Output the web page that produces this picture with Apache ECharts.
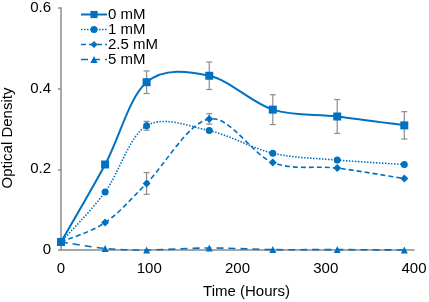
<!DOCTYPE html>
<html>
<head>
<meta charset="utf-8">
<script src="https://cdn.jsdelivr.net/npm/echarts@6/dist/echarts.min.js"></script>
<style>
    html, body { margin: 0; padding: 0; background: #fff; }
    #chart { width: 429px; height: 302px; }
</style>
</head>
<body>
<div id="chart"></div>
<script>
// 数据
var hours = [0, 50, 97, 168, 240, 313, 389];
var seriesNames = ['0 mM', '1 mM', '2.5 mM', '5 mM'];
var od0 = [0.020, 0.212, 0.416, 0.432, 0.348, 0.331, 0.309];
var od1 = [0.020, 0.144, 0.308, 0.296, 0.240, 0.223, 0.212];
var od25 = [0.020, 0.068, 0.165, 0.325, 0.217, 0.203, 0.177];
var od5 = [0.020, 0.004, 0.000, 0.005, 0.001, 0.001, 0.000];
var err0 = [0, 0, 0.028, 0.034, 0.037, 0.042, 0.034];
var err1 = [0, 0, 0.011, 0, 0, 0, 0];
var err25 = [0, 0, 0.027, 0.013, 0, 0, 0];
var yTicks = [0, 0.2, 0.4, 0.6];

(function () {
    var chart = echarts.init(document.getElementById('chart')),
        blue = '#0070C0',
        grey = '#8c8c8c',
        font = 'Liberation Sans, Arial, sans-serif',
        fs = 15,
        values = [od0, od1, od25, od5],
        errors = [err0, err1, err25],
        symbols = ['rect', 'circle', 'diamond', 'triangle'],
        sizes = [8, 7, 8, 7],
        widths = [2, 1.6, 1.6, 1.6],
        dashes = ['solid', [1.5, 1.5], [5, 3], [7, 5]],
        series = [],
        legendData = [],
        errData = [],
        i, j;

    // 误差线
    for (i = 0; i < errors.length; i++) {
        for (j = 0; j < hours.length; j++) {
            if (errors[i][j] > 0) {
                errData.push([hours[j], values[i][j] - errors[i][j], values[i][j] + errors[i][j]]);
            }
        }
    }

    // Excel 式平滑曲线 (Catmull-Rom), 在像素坐标里算控制点
    function smoothRender(idx) {
        return function (params, api) {
            if (params.dataIndex !== 0) {
                return null;
            }
            var p = [], k, d, a, b, c, e;
            for (k = 0; k < hours.length; k++) {
                p.push(api.coord([hours[k], values[idx][k]]));
            }
            d = 'M' + p[0][0] + ' ' + p[0][1];
            for (k = 0; k < p.length - 1; k++) {
                a = p[k - 1] || p[k];
                b = p[k];
                c = p[k + 1];
                e = p[k + 2] || p[k + 1];
                d += ' C' + (b[0] + (c[0] - a[0]) / 6) + ' ' + (b[1] + (c[1] - a[1]) / 6) +
                    ' ' + (c[0] - (e[0] - b[0]) / 6) + ' ' + (c[1] - (e[1] - b[1]) / 6) +
                    ' ' + c[0] + ' ' + c[1];
            }
            return {
                type: 'path',
                shape: { pathData: d },
                style: {
                    fill: null,
                    stroke: blue,
                    lineWidth: widths[idx],
                    lineDash: dashes[idx] === 'solid' ? null : dashes[idx]
                }
            };
        };
    }

    for (i = 0; i < values.length; i++) {
        var pts = [];
        for (j = 0; j < hours.length; j++) {
            pts.push([hours[j], values[i][j]]);
        }
        series.push({
            name: seriesNames[i],
            type: 'line',
            data: pts,
            symbol: symbols[i],
            symbolSize: sizes[i],
            z: 4,
            itemStyle: { color: blue },
            lineStyle: { opacity: 0 }
        });
        series.push({
            type: 'custom',
            coordinateSystem: 'cartesian2d',
            z: 2,
            data: pts,
            renderItem: smoothRender(i)
        });
        legendData.push({
            name: seriesNames[i],
            lineStyle: { opacity: 1, color: blue, width: widths[i], type: dashes[i] }
        });
    }

    series.push({
        type: 'custom',
        z: 3,
        data: errData,
        renderItem: function (params, api) {
            var lo = api.coord([api.value(0), api.value(1)]),
                hi = api.coord([api.value(0), api.value(2)]),
                w = 3,
                style = { stroke: grey, lineWidth: 1.2 };
            return {
                type: 'group',
                children: [
                    { type: 'line', shape: { x1: lo[0], y1: lo[1], x2: hi[0], y2: hi[1] }, style: style },
                    { type: 'line', shape: { x1: lo[0] - w, y1: lo[1], x2: lo[0] + w, y2: lo[1] }, style: style },
                    { type: 'line', shape: { x1: hi[0] - w, y1: hi[1], x2: hi[0] + w, y2: hi[1] }, style: style }
                ]
            };
        }
    });

    chart.setOption({
        animation: false,
        textStyle: { fontFamily: font },
        grid: { left: 61, right: 15, top: 8, bottom: 52, containLabel: false, outerBoundsMode: 'none' },
        legend: {
            data: legendData,
            orient: 'vertical',
            left: 75,
            top: 2,
            itemWidth: 26,
            itemHeight: 9,
            itemGap: 0,
            textStyle: { fontSize: fs, color: '#000', fontFamily: font, padding: [0, 0, 0, -4] }
        },
        xAxis: {
            type: 'value',
            min: 0,
            max: 400,
            interval: 100,
            name: 'Time (Hours)',
            nameLocation: 'middle',
            nameGap: 34,
            nameTextStyle: { fontSize: fs, color: '#000', padding: [0, 0, 0, 18] },
            axisLine: { lineStyle: { color: grey, width: 1.5 } },
            axisTick: { show: false },
            axisLabel: { fontSize: fs, color: '#000', margin: 11 },
            splitLine: { show: false }
        },
        yAxis: {
            type: 'value',
            min: yTicks[0],
            max: yTicks[yTicks.length - 1],
            interval: 0.2,
            name: 'Optical Density',
            nameLocation: 'middle',
            nameGap: 46,
            nameTextStyle: { fontSize: fs, color: '#000', padding: [0, 18, 0, 0] },
            axisLine: { show: true, lineStyle: { color: grey, width: 1.5 } },
            axisTick: { show: true, length: 3, lineStyle: { color: grey, width: 1.5 } },
            axisLabel: { fontSize: fs, color: '#000', margin: 10 },
            splitLine: { show: false }
        },
        series: series
    });
})();
</script>
</body>
</html>
